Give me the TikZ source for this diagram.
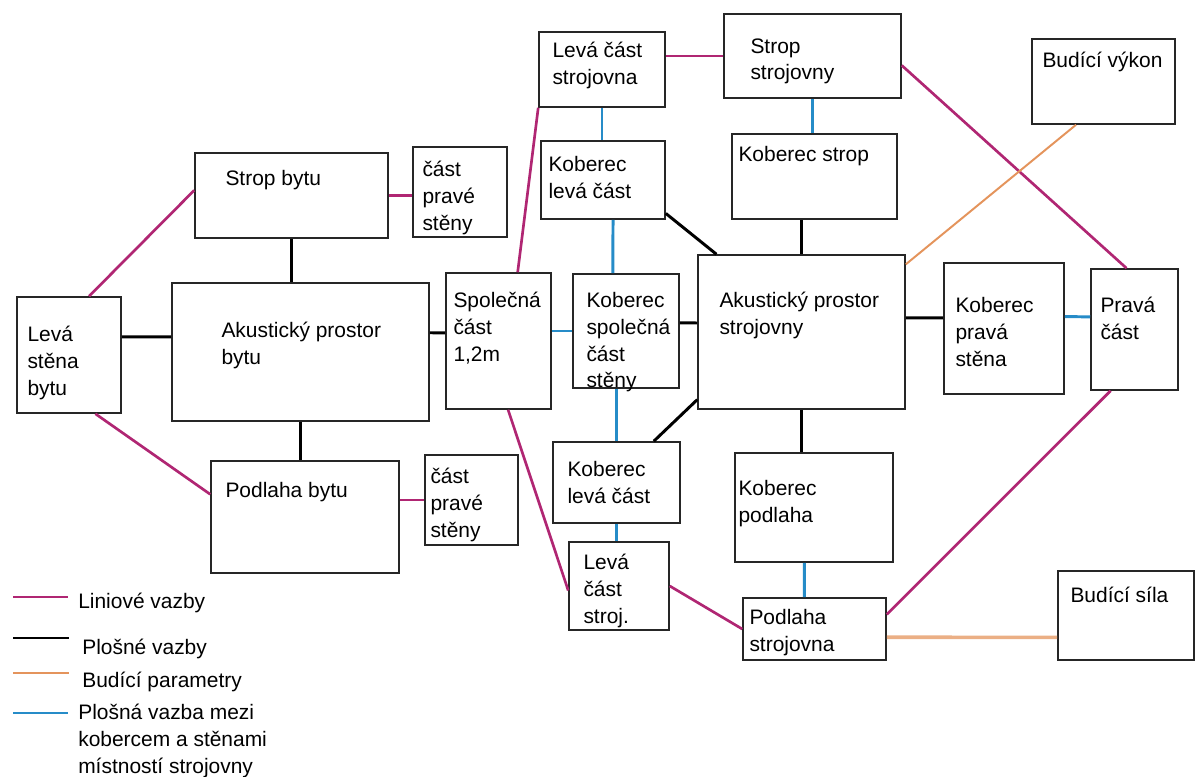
\documentclass[tikz,border=0pt]{standalone}
\usepackage{fontspec}
\setmainfont{Liberation Sans}
\usetikzlibrary{calc,fit}

\definecolor{linc}{RGB}{176,38,115}
\definecolor{kobc}{RGB}{38,140,200}
\definecolor{budc}{RGB}{228,148,92}

\begin{document}
\begin{tikzpicture}[
    x=0.025cm, y=-0.025cm,
    every node/.style={font=\fontsize{14.9}{19}\selectfont},
    box/.style={draw=black!85, line width=1.1pt, inner sep=0pt},
    txt/.style={anchor=north west, inner sep=0pt, align=left},
    liniova/.style={draw=linc, line width=1.9pt},
    plosna/.style={draw=black, line width=2.1pt},
    budici/.style={draw=budc, line width=1.4pt},
    koberec/.style={draw=kobc, line width=2.1pt}
]
\useasboundingbox (0,0) rectangle (1196,776);

% byt
\node[box, fit={(17,297) (121,413)}] (lsb) {};
\node[txt] (lsb-t) at ($(lsb.north west)+(11,30)$) {Levá\\stěna\\bytu};
\node[box, fit={(195,153) (388,238)}] (sb) {};
\node[txt] (sb-t) at ($(sb.north west)+(31,18)$) {Strop bytu};
\node[box, fit={(413,147) (507,237)}] (cps1) {};
\node[txt] (cps1-t) at ($(cps1.north west)+(10,15)$) {část\\pravé\\stěny};
\node[box, fit={(172,283) (429,421)}] (apb) {};
\node[txt] (apb-t) at ($(apb.north west)+(50,40)$) {Akustický prostor\\bytu};
\node[box, fit={(211,461) (399,573)}] (pb) {};
\node[txt] (pb-t) at ($(pb.north west)+(15,22)$) {Podlaha bytu};
\node[box, fit={(425,455) (518,545)}] (cps2) {};
\node[txt] (cps2-t) at ($(cps2.north west)+(6,14)$) {část\\pravé\\stěny};
\node[box, fit={(446,273) (551,409)}] (sc) {};
\node[txt] (sc-t) at ($(sc.north west)+(8,20)$) {Společná\\část\\1,2m};

% strojovna
\node[box, fit={(539,32) (665,107)}] (lcs) {};
\node[txt] (lcs-t) at ($(lcs.north west)+(14,11)$) {Levá část\\strojovna};
\node[box, fit={(724,14) (901,98)}] (ss) {};
\node[txt] (ss-t) at ($(ss.north west)+(27,25)$) {Strop\\strojovny};
\node[box, fit={(541,141) (665,219)}] (klc1) {};
\node[txt] (klc1-t) at ($(klc1.north west)+(8,16)$) {Koberec\\levá část};
\node[box, fit={(732,134) (897,219)}] (ks) {};
\node[txt] (ks-t) at ($(ks.north west)+(7,13)$) {Koberec strop};
\node[box, fit={(573,274) (679,388)}] (ksc) {};
\node[txt] (ksc-t) at ($(ksc.north west)+(14,19)$) {Koberec\\společná\\část\\stěny};
\node[box, fit={(698,255) (905,409)}] (aps) {};
\node[txt] (aps-t) at ($(aps.north west)+(22,38)$) {Akustický prostor\\strojovny};
\node[box, fit={(553,442) (680,523)}] (klc2) {};
\node[txt] (klc2-t) at ($(klc2.north west)+(15,20)$) {Koberec\\levá část};
\node[box, fit={(735,453) (893,562)}] (kp) {};
\node[txt] (kp-t) at ($(kp.north west)+(4,28)$) {Koberec\\podlaha};
\node[box, fit={(569,542) (669,630)}] (lcst) {};
\node[txt] (lcst-t) at ($(lcst.north west)+(15,13)$) {Levá\\část\\stroj.};
\node[box, fit={(743,598) (886,660)}] (ps) {};
\node[txt] (ps-t) at ($(ps.north west)+(7,12)$) {Podlaha\\strojovna};
\node[box, fit={(1058,571) (1194,660)}] (bsi) {};
\node[txt] (bsi-t) at ($(bsi.north west)+(13,17)$) {Budící síla};
\node[box, fit={(1032,39) (1175,124)}] (bv) {};
\node[txt] (bv-t) at ($(bv.north west)+(11,14)$) {Budící výkon};
\node[box, fit={(944,263) (1064,394)}] (kps) {};
\node[txt] (kps-t) at ($(kps.north west)+(12,35)$) {Koberec\\pravá\\stěna};
\node[box, fit={(1091,269) (1178,390)}] (pc) {};
\node[txt] (pc-t) at ($(pc.north west)+(10,29)$) {Pravá\\část};

% liniove vazby
\draw[liniova] ($(lsb.north west)!0.69!(lsb.north east)$) -- ($(sb.north west)!0.44!(sb.south west)$);
\draw[liniova] ($(lsb.south west)!0.75!(lsb.south east)$) -- ($(pb.north west)!0.30!(pb.south west)$);
\draw[liniova] (sb.east) -- (sb.east -| cps1.west);
\draw[liniova] (cps2.west) -- (cps2.west -| pb.east);
\draw[liniova] ($(sc.north west)!0.68!(sc.north east)$) -- (lcs.south west);
\draw[liniova] ($(sc.south west)!0.59!(sc.south east)$) -- ($(lcst.north west)!0.55!(lcst.south west)$);
\draw[liniova] (ss.west) -- (ss.west -| lcs.east);
\draw[liniova] ($(ss.north east)!0.61!(ss.south east)$) -- ($(pc.north west)!0.41!(pc.north east)$);
\draw[liniova] ($(pc.south west)!0.23!(pc.south east)$) -- ($(ps.north east)!0.27!(ps.south east)$);
\draw[liniova] (lcst.east) -- (ps.west);

% plosne vazby
\draw[plosna] ($(lsb.north east)!0.345!(lsb.south east)$) -- ($(apb.north west)!0.391!(apb.south west)$);
\draw[plosna] (sb.south) -- (sb.south |- apb.north);
\draw[plosna] (apb.south) -- (apb.south |- pb.north);
\draw[plosna] ($(apb.north east)!0.362!(apb.south east)$) -- ($(sc.north west)!0.441!(sc.south west)$);
\draw[plosna] ($(ksc.north east)!0.43!(ksc.south east)$) -- ($(aps.north west)!0.442!(aps.south west)$);
\draw[plosna] ($(klc1.north east)!0.92!(klc1.south east)$) -- ($(aps.north west)!0.092!(aps.north east)$);
\draw[plosna] (aps.north) -- (aps.north |- ks.south);
\draw[plosna] ($(aps.north west)!0.935!(aps.south west)$) -- ($(klc2.north west)!0.79!(klc2.north east)$);
\draw[plosna] (aps.south) -- (aps.south |- kp.north);
\draw[plosna] ($(kps.north west)!0.42!(kps.south west)$) -- ($(aps.north east)!0.409!(aps.south east)$);

% koberec - steny
\draw[koberec] (ksc.west) -- (ksc.west -| sc.east);
\draw[koberec] (lcs.south) -- (lcs.south |- klc1.north);
\draw[koberec] (ss.south) -- (ss.south |- ks.north);
\draw[koberec] ($(klc1.south west)!0.58!(klc1.south east)$) -- ($(ksc.north west)!0.377!(ksc.north east)$);
\draw[koberec] (klc2.north) -- (klc2.north |- ksc.south);
\draw[koberec] (klc2.south) -- (klc2.south |- lcst.north);
\draw[koberec] ($(kp.south west)!0.44!(kp.south east)$) -- ($(ps.north west)!0.43!(ps.north east)$);
\draw[koberec] ($(kps.north east)!0.41!(kps.south east)$) -- ($(pc.north west)!0.397!(pc.south west)$);

% budici parametry
\draw[budici] ($(bv.south west)!0.31!(bv.south east)$) -- ($(aps.north east)!0.065!(aps.south east)$);
\draw[budici, line width=2.6pt, draw=budc!75] ($(ps.north east)!0.63!(ps.south east)$) -- ($(bsi.north west)!0.742!(bsi.south west)$);

% legenda
\node[txt] (leg1) at (78,593) {Liniové vazby};
\node[txt] (leg2) at (82,639) {Plošné vazby};
\node[txt] (leg3) at (82,672) {Budící parametry};
\node[txt] (leg4) at (78,704) {Plošná vazba mezi\\kobercem a stěnami\\místností strojovny};
\draw[liniova] ($(leg1.north west)+(-65,4)$) -- ++(55,0);
\draw[plosna] ($(leg2.north west)+(-69,-1)$) -- ++(56,0);
\draw[budici, line width=2.1pt] ($(leg3.north west)+(-69,1)$) -- ++(56,0);
\draw[koberec] ($(leg4.north west)+(-65,9)$) -- ++(55,0);
\end{tikzpicture}
\end{document}
